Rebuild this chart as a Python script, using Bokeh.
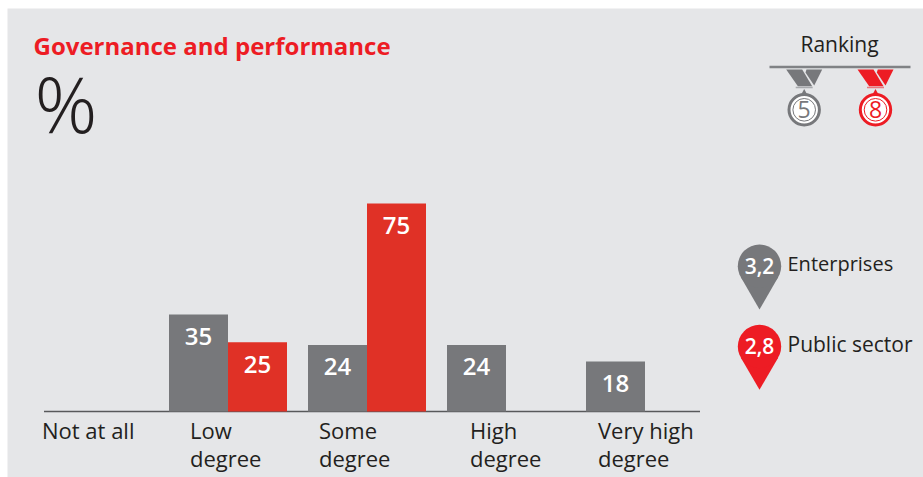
from bokeh.embed import file_html
from bokeh.resources import INLINE
from bokeh.plotting import figure
from bokeh.models import Range1d, ColumnDataSource
from bokeh.core.properties import value
import numpy as np

categories = ["Not at all", "Low\ndegree", "Some\ndegree", "High\ndegree", "Very high\ndegree"]
enterprises = [None, 35, 24, 24, 18]
public_sector = [None, 25, 75, None, None]
series_names = ["Enterprises", "Public sector"]
series_scores = ["3,2", "2,8"]
series_ranks = ["5", "8"]
title = "Governance and performance"
unit = "%"
ranking_title = "Ranking"

GREY, BAR_RED, RED, INK, PANEL = "#77787b", "#e03126", "#ed1c24", "#231f20", "#e5e6e8"
FONT = value("Open Sans")
SEMI = value("Open Sans SemiBold")
LIGHT = value("Open Sans Light")

L, T = 7, 8
W, H = 916, 469
UNIT_PX, PCT_PX = 139.0, 2.773
ORIGIN_X = 81.5
p = figure(frame_width=W, frame_height=H, output_backend="svg", toolbar_location=None,
           x_range=Range1d(-ORIGIN_X / UNIT_PX, (W - ORIGIN_X) / UNIT_PX),
           y_range=Range1d(-(H - 403) / PCT_PX, 403 / PCT_PX),
           min_border_left=L, min_border_top=T, min_border_right=0, min_border_bottom=0,
           x_axis_type=None, y_axis_type=None,
           background_fill_color=PANEL, border_fill_color="white", outline_line_color=None)
p.grid.visible = False
p.extra_x_ranges["px"] = Range1d(L, L + W)
p.extra_y_ranges["px"] = Range1d(T + H, T)
PX = dict(x_range_name="px", y_range_name="px")

p.segment(x0=[-45 / UNIT_PX], x1=[611 / UNIT_PX], y0=[0], y1=[0], line_color="#58595b", line_width=1.5)

BAR_W = 59 / UNIT_PX
for vals, side, colour in ((enterprises, -0.5, GREY), (public_sector, 0.5, BAR_RED)):
    idx = [i for i, v in enumerate(vals) if v is not None]
    src = ColumnDataSource(dict(x=[i + side * BAR_W for i in idx],
                                y=[vals[i] for i in idx],
                                t=[str(vals[i]) for i in idx]))
    p.vbar(x="x", top="y", bottom=0, width=BAR_W, source=src, fill_color=colour, line_color=None)
    p.text(x="x", y="y", text="t", source=src, text_color="white", text_font=SEMI,
           text_font_size="24px", text_align="center", text_baseline="middle", y_offset=22)

label_shift = [-47, -38, -48, -36, -47]
p.text(x=list(range(5)), y=[0] * 5, text=categories, x_offset=label_shift, y_offset=3,
       text_font=FONT, text_font_size="22px", text_color=INK, text_align="left",
       text_baseline="top", text_line_height=0.95)

p.text(x=[33], y=[45], text=[title], text_font=FONT, text_font_style="bold", text_font_size="24px",
       text_color=RED, text_baseline="middle", **PX)
p.text(x=[34], y=[102], text=[unit], text_font=LIGHT, text_font_size="78px",
       text_color=INK, text_baseline="middle", **PX)

# Ranking header and medals
p.text(x=[839], y=[43], text=[ranking_title], text_font=FONT, text_font_size="21px",
       text_color=INK, text_align="center", text_baseline="middle", **PX)
p.line(x=[769, 910], y=[66.5, 66.5], line_color="#808285", line_width=2.5, **PX)

for cx, rank, colour in ((803.7, series_ranks[0], GREY), (875, series_ranks[1], RED)):
    p.patch(x=[cx - 18, cx - 2, cx + 8, cx - 6.3], y=[69, 69, 85.7, 85.7],
            fill_color=colour, line_color=None, **PX)
    p.patch(x=[cx + 2.3, cx + 18, cx + 10, cx + 1.3], y=[69, 69, 85, 72],
            fill_color=colour, line_color=None, **PX)
    p.line(x=[cx - 8.5, cx + 8.5], y=[87, 87], line_color=colour, line_width=1.5, line_alpha=0.55, **PX)
    p.patch(x=[cx - 3, cx, cx + 3], y=[94, 88.5, 94], fill_color=colour, line_color=None, **PX)
    p.circle(x=[cx], y=[109.3], radius=15.2, fill_color="white", line_color=colour, line_width=3, **PX)
    p.circle(x=[cx], y=[109.3], radius=11.3, fill_color="white", line_color=colour, line_width=1, **PX)
    p.text(x=[cx], y=[109], text=[rank], text_font=FONT, text_font_size="23px", text_color=colour,
           text_align="center", text_baseline="middle", **PX)

# Pins
R, TIP = 21.7, 43.3
ang = np.arccos(R / TIP)
for cy, name, score, colour, size in ((265.7, series_names[0], series_scores[0], GREY, "20px"),
                                      (346.0, series_names[1], series_scores[1], RED, "21px")):
    dx, dy = R * np.sin(ang), R * np.cos(ang)
    p.patch(x=[759 - dx, 759, 759 + dx], y=[cy + dy, cy + TIP, cy + dy],
            fill_color=colour, line_color=None, **PX)
    p.circle(x=[759], y=[cy], radius=R, fill_color=colour, line_color=None, **PX)
    p.text(x=[759], y=[cy - 0.5], text=[score], text_font=SEMI,
           text_font_size="21px", text_color="white", text_align="center", text_baseline="middle", **PX)
    p.text(x=[787], y=[cy - 3], text=[name], text_font=FONT, text_font_size=size,
           text_color=INK, text_baseline="middle", **PX)

open("out.html", "w").write(file_html(p, INLINE))
